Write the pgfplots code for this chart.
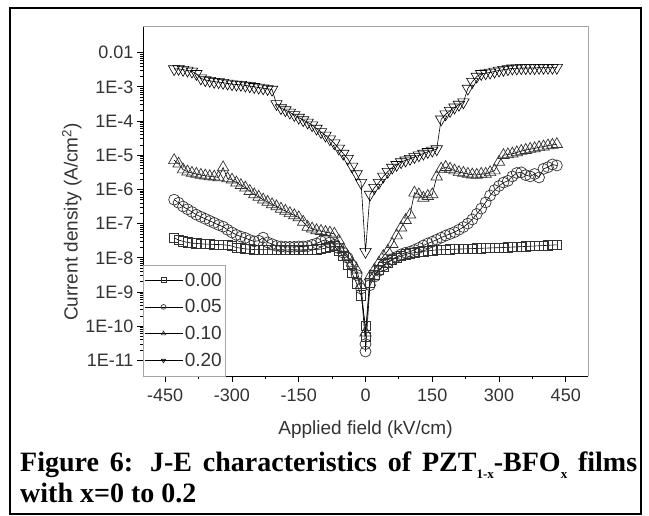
\documentclass[border=0pt]{standalone}
\usepackage{fontspec}
\setmainfont{Liberation Sans}
\newfontfamily\capfont{Liberation Serif}
\usepackage{pgfplots}
\usepackage{pgfplotstable}
\pgfplotsset{compat=1.18}

\pgfplotstableread{
x y
-430 3.89e-8
-420 3.31e-8
-410 3.02e-8
-400 2.82e-8
-390 2.69e-8
-380 2.63e-8
-370 2.57e-8
-360 2.51e-8
-350 2.51e-8
-340 2.45e-8
-330 2.45e-8
-320 2.40e-8
-310 2.34e-8
-300 2.19e-8
-290 2.00e-8
-280 1.91e-8
-270 1.82e-8
-260 1.78e-8
-250 1.74e-8
-240 1.74e-8
-230 1.72e-8
-220 1.74e-8
-210 1.70e-8
-200 1.72e-8
-190 1.74e-8
-180 1.70e-8
-170 1.72e-8
-160 1.74e-8
-150 1.70e-8
-140 1.72e-8
-130 1.74e-8
-120 1.72e-8
-110 1.76e-8
-100 1.80e-8
-90 1.91e-8
-80 2.09e-8
-70 2.19e-8
-60 1.58e-8
-50 1.12e-8
-40 6.31e-9
-30 3.55e-9
-20 1.78e-9
-10 7.94e-10
0 1.00e-10
0 5.01e-11
10 1.86e-9
20 3.16e-9
30 4.47e-9
40 5.50e-9
50 7.08e-9
60 8.71e-9
70 1.00e-8
80 1.12e-8
90 1.26e-8
100 1.35e-8
110 1.41e-8
120 1.48e-8
130 1.55e-8
140 1.58e-8
150 1.66e-8
160 1.70e-8
170 1.72e-8
180 1.74e-8
190 1.76e-8
200 1.78e-8
210 1.80e-8
220 1.82e-8
230 1.84e-8
240 1.86e-8
250 1.88e-8
260 1.90e-8
270 1.92e-8
280 1.94e-8
290 1.96e-8
300 1.98e-8
310 2.00e-8
320 2.03e-8
330 2.06e-8
340 2.09e-8
350 2.12e-8
360 2.15e-8
370 2.18e-8
380 2.21e-8
390 2.25e-8
400 2.28e-8
410 2.32e-8
420 2.36e-8
430 2.40e-8
}\dataA

\pgfplotstableread{
x y
-430 5.01e-7
-420 4.07e-7
-410 3.16e-7
-400 2.63e-7
-390 2.19e-7
-380 1.82e-7
-370 1.58e-7
-360 1.38e-7
-350 1.20e-7
-340 1.05e-7
-330 9.12e-8
-320 8.13e-8
-310 6.61e-8
-300 5.50e-8
-290 4.68e-8
-280 4.17e-8
-270 3.80e-8
-260 3.31e-8
-250 3.02e-8
-240 3.16e-8
-230 3.89e-8
-220 2.82e-8
-210 2.51e-8
-200 2.24e-8
-190 2.14e-8
-180 2.09e-8
-170 2.09e-8
-160 2.09e-8
-150 2.14e-8
-140 2.14e-8
-130 2.19e-8
-120 2.40e-8
-110 2.63e-8
-100 3.02e-8
-90 3.39e-8
-80 2.82e-8
-70 2.40e-8
-60 1.91e-8
-50 1.41e-8
-40 1.00e-8
-30 6.03e-9
-20 3.16e-9
-10 1.26e-9
0 3.00e-11
0 1.82e-11
10 1.58e-9
20 2.82e-9
30 4.17e-9
40 6.03e-9
50 7.59e-9
60 9.12e-9
70 1.07e-8
80 1.26e-8
90 1.41e-8
100 1.51e-8
110 1.70e-8
120 1.95e-8
130 2.29e-8
140 2.63e-8
150 2.95e-8
160 3.39e-8
170 3.89e-8
180 4.47e-8
190 5.01e-8
200 5.62e-8
210 6.61e-8
220 7.94e-8
230 1.00e-7
240 1.32e-7
250 1.91e-7
260 2.75e-7
270 4.17e-7
280 6.61e-7
290 9.55e-7
300 1.26e-6
310 1.58e-6
320 1.78e-6
330 2.40e-6
340 3.02e-6
350 3.16e-6
360 2.63e-6
370 2.40e-6
380 2.82e-6
390 2.24e-6
400 3.98e-6
410 4.47e-6
420 5.37e-6
430 5.01e-6
}\dataB

\pgfplotstableread{
x y
-430 7.08e-6
-420 5.62e-6
-410 3.80e-6
-400 3.31e-6
-390 3.02e-6
-380 2.82e-6
-370 2.63e-6
-360 2.51e-6
-350 2.40e-6
-340 2.34e-6
-330 2.24e-6
-320 4.37e-6
-310 2.09e-6
-300 1.91e-6
-290 1.58e-6
-280 1.32e-6
-270 1.12e-6
-260 8.91e-7
-250 7.08e-7
-240 6.03e-7
-230 5.01e-7
-220 4.27e-7
-210 3.63e-7
-200 3.16e-7
-190 2.69e-7
-180 2.34e-7
-170 2.00e-7
-160 1.74e-7
-150 1.51e-7
-140 1.12e-7
-130 7.94e-8
-120 7.08e-8
-110 6.31e-8
-100 6.03e-8
-90 5.62e-8
-80 5.37e-8
-70 5.01e-8
-60 3.16e-8
-50 1.78e-8
-40 1.10e-8
-30 7.08e-9
-20 4.47e-9
-10 1.58e-9
0 6.46e-11
10 2.82e-9
20 4.47e-9
30 7.08e-9
40 1.12e-8
50 1.58e-8
60 2.51e-8
70 4.47e-8
80 7.59e-8
90 1.26e-7
100 1.82e-7
110 7.94e-7
120 7.08e-7
130 5.62e-7
140 6.31e-7
150 7.08e-7
160 2.34e-6
170 3.98e-6
180 4.47e-6
190 3.98e-6
200 3.55e-6
210 3.16e-6
220 3.02e-6
230 2.82e-6
240 2.69e-6
250 2.63e-6
260 2.82e-6
270 2.82e-6
280 3.16e-6
290 3.55e-6
300 6.31e-6
310 1.00e-5
320 1.05e-5
330 1.10e-5
340 1.20e-5
350 1.32e-5
360 1.41e-5
370 1.51e-5
380 1.58e-5
390 1.70e-5
400 1.78e-5
410 1.91e-5
420 2.00e-5
430 2.09e-5
}\dataC

\pgfplotstableread{
x y
-430 3.31e-3
-420 3.39e-3
-410 3.16e-3
-400 3.02e-3
-390 2.82e-3
-380 2.40e-3
-370 1.78e-3
-360 1.58e-3
-350 1.51e-3
-340 1.41e-3
-330 1.38e-3
-320 1.32e-3
-310 1.26e-3
-300 1.20e-3
-290 1.17e-3
-280 1.15e-3
-270 1.10e-3
-260 1.05e-3
-250 1.00e-3
-240 9.55e-4
-230 9.12e-4
-220 8.71e-4
-210 8.32e-4
-200 3.16e-4
-190 2.40e-4
-180 2.09e-4
-170 1.78e-4
-160 1.51e-4
-150 1.26e-4
-140 1.07e-4
-130 9.12e-5
-120 7.59e-5
-110 6.03e-5
-100 4.79e-5
-90 3.80e-5
-80 2.95e-5
-70 2.24e-5
-60 1.58e-5
-50 1.12e-5
-40 7.94e-6
-30 4.68e-6
-20 2.82e-6
-10 1.58e-6
0 1.51e-8
10 7.08e-7
20 1.12e-6
30 1.58e-6
40 2.40e-6
50 3.31e-6
60 4.37e-6
70 5.25e-6
80 6.31e-6
90 7.08e-6
100 7.94e-6
110 8.91e-6
120 1.00e-5
130 1.12e-5
140 1.26e-5
150 1.38e-5
160 1.51e-5
170 1.12e-4
180 1.58e-4
190 2.00e-4
200 2.51e-4
210 3.02e-4
220 3.55e-4
230 8.91e-4
240 1.41e-3
250 2.00e-3
260 2.40e-3
270 2.51e-3
280 2.63e-3
290 2.82e-3
300 3.02e-3
310 3.16e-3
320 3.31e-3
330 3.47e-3
340 3.47e-3
350 3.55e-3
360 3.55e-3
370 3.55e-3
380 3.55e-3
390 3.63e-3
400 3.63e-3
410 3.63e-3
420 3.63e-3
430 3.63e-3
}\dataD

\begin{document}
\begin{tikzpicture}[x=1pt,y=1pt]
\useasboundingbox (0,0) rectangle (649,516);
\draw[line width=2.6pt] (10,2) rectangle (641,508);
\begin{axis}[
  at={(143pt,140pt)}, anchor=south west,
  scale only axis, width=445pt, height=350pt,
  xmin=-500, xmax=500,
  ymode=log, ymin=3.5e-12, ymax=6.0e-2,
  axis x line*=bottom, axis y line*=left,
  axis line style={black, line width=0.9pt},
  tick align=outside,
  major tick length=6pt, minor tick length=3pt,
  tick style={black, line width=0.8pt},
  xtick={-450,-300,-150,0,150,300,450},
  xticklabels={-450,-300,-150,0,150,300,450},
  minor xtick={-375,-225,-75,75,225,375},
  ytick={1e-11,1e-10,1e-9,1e-8,1e-7,1e-6,1e-5,1e-4,1e-3,1e-2},
  yticklabels={1E-11,1E-10,1E-9,1E-8,1E-7,1E-6,1E-5,1E-4,1E-3,0.01},
  ticklabel style={font=\fontsize{18}{18}\selectfont, text=black!80},
  xticklabel style={yshift=-3pt},
  xlabel={Applied field (kV/cm)},
  ylabel={Current density (A/cm\textsuperscript{2})},
  label style={font=\fontsize{19}{19}\selectfont, text=black!80},
  xlabel style={at={(axis description cs:0.5,-0.154)}, anchor=center},
  ylabel style={at={(axis description cs:-0.16,0.44)}, anchor=center},
  legend style={at={(axis description cs:0,0)}, anchor=south west,
    draw=gray!70, fill=white, font=\fontsize{19}{19}\selectfont,
    text=black!80, inner xsep=1pt, inner ysep=6pt, row sep=8pt,
    cells={anchor=west}},
  legend image code/.code={\draw[mark repeat=2,mark phase=2]
    plot coordinates {(0pt,0pt) (19pt,0pt) (38pt,0pt)};},
  legend image post style={mark size=2.4pt},
  every axis plot/.append style={line width=0.6pt, black,
    mark options={solid, fill=white, draw=black!80, line width=0.7pt}},
]
\addplot[mark=square, mark size=4.6pt] table {\dataA};
\addlegendentry{0.00}
\addplot[mark=o, mark size=5.5pt] table {\dataB};
\addlegendentry{0.05}
\addplot[mark=triangle, mark size=6.6pt] table {\dataC};
\addlegendentry{0.10}
\addplot[mark=triangle, mark size=6.6pt, mark options={rotate=180}] table {\dataD};
\addlegendentry{0.20}
\end{axis}
\draw[gray!70, line width=0.8pt] (143,490) -- (588,490) -- (588,140);
\node[anchor=base west, inner sep=0pt] at (20,44)
  {\makebox[617pt][s]{\capfont\bfseries\fontsize{28}{32}\selectfont Figure 6: J-E characteristics of PZT\raisebox{-7pt}{\fontsize{13}{13}\selectfont 1-x}-BFO\raisebox{-7pt}{\fontsize{13}{13}\selectfont x} films}};
\node[anchor=base west, inner sep=0pt] at (20,13)
  {\capfont\bfseries\fontsize{28}{32}\selectfont with x=0 to 0.2};
\end{tikzpicture}
\end{document}
